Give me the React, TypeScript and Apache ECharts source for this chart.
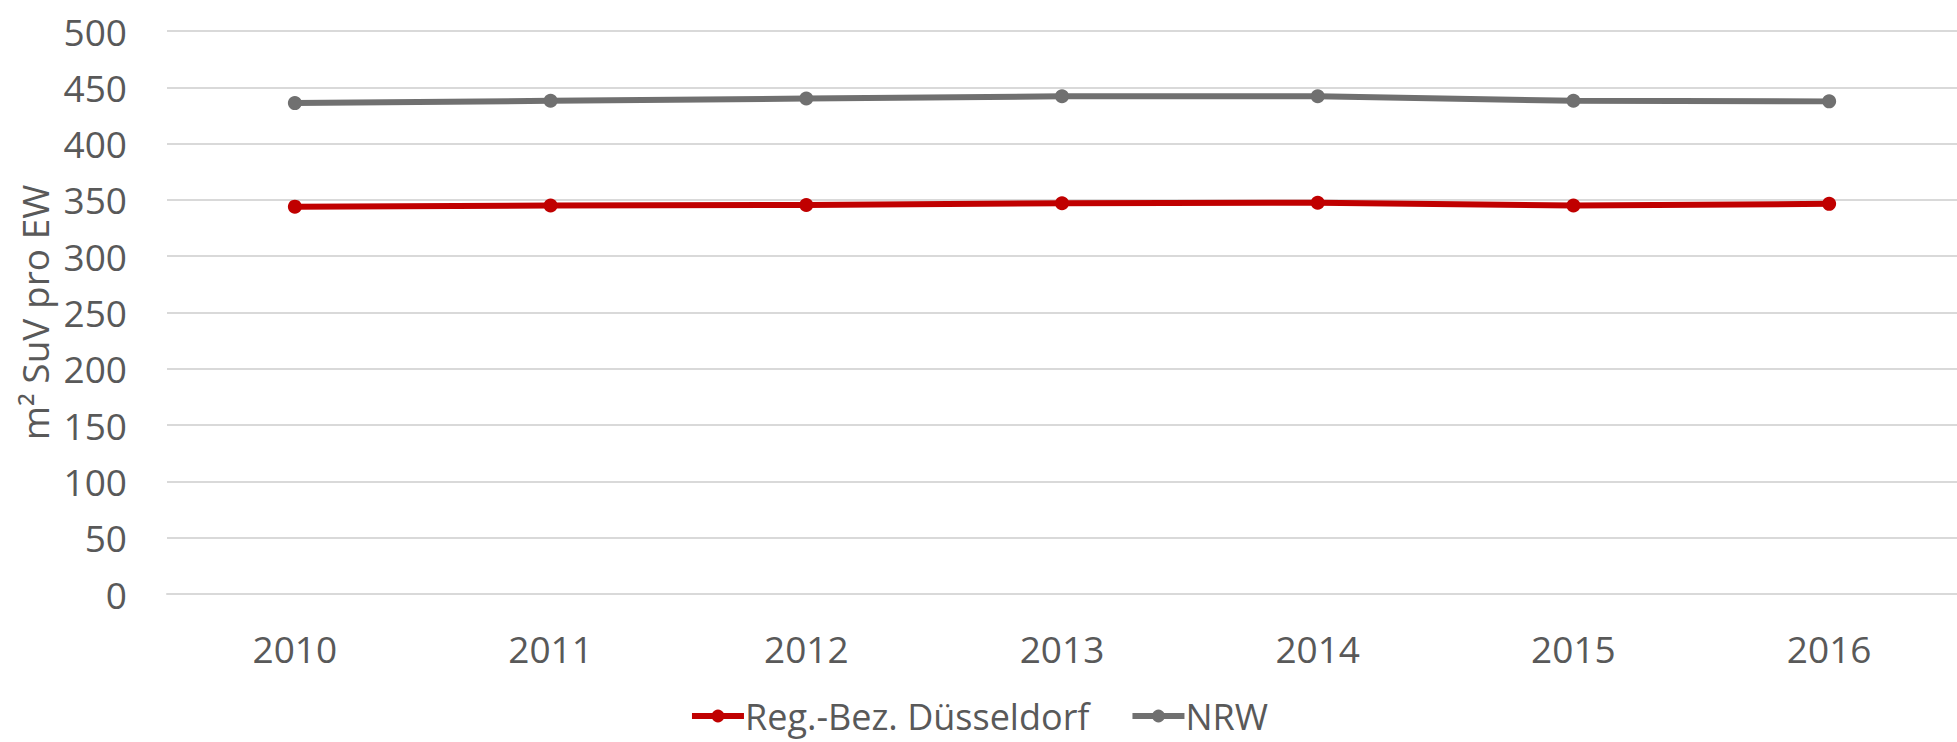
import React, { useEffect, useRef } from "react";
import * as echarts from "echarts";

const years = ["2010", "2011", "2012", "2013", "2014", "2015", "2016"];
const duesseldorf = [344, 345, 345.5, 347, 347.5, 345, 346.5];
const nrw = [436, 438, 440, 442, 442, 438, 437.5];
const yTicks = { min: 0, max: 500, interval: 50 };

export default function App() {
  const ref = useRef<HTMLDivElement>(null);
  useEffect(() => {
    document.body.style.margin = "0";
    const chart = echarts.init(ref.current!, null, { renderer: "svg" });
    const font = "'Open Sans', sans-serif";
    const txt = "#595959";
    chart.setOption({
      animation: false,
      backgroundColor: "#ffffff",
      grid: { left: 167, top: 31, right: -9, bottom: 148, containLabel: false },
      legend: {
        bottom: 8,
        left: "center",
        itemWidth: 52,
        itemHeight: 16,
        itemGap: 40,
        padding: 0,
        lineStyle: { width: 6 },
        textStyle: { fontFamily: font, fontSize: 36, lineHeight: 36, color: txt, padding: [0, 0, 0, -4] },
        data: ["Reg.-Bez. Düsseldorf", "NRW"],
      },
      xAxis: {
        type: "category",
        data: years,
        boundaryGap: true,
        axisLine: { show: true, lineStyle: { color: "#D9D9D9", width: 2 } },
        axisTick: { show: false },
        axisLabel: { fontFamily: font, fontSize: 37, color: txt, margin: 36 },
      },
      yAxis: {
        type: "value",
        min: yTicks.min,
        max: yTicks.max,
        interval: yTicks.interval,
        name: "m² SuV pro EW",
        nameLocation: "middle",
        nameGap: 113,
        nameRotate: 90,
        nameTextStyle: { fontFamily: font, fontSize: 37, color: txt },
        axisLine: { show: false },
        axisTick: { show: false },
        splitLine: { lineStyle: { color: "#D9D9D9", width: 2 } },
        axisLabel: { fontFamily: font, fontSize: 37, color: txt, margin: 40 },
      },
      series: [
        {
          name: "Reg.-Bez. Düsseldorf",
          type: "line",
          data: duesseldorf,
          symbol: "circle",
          symbolSize: 14,
          itemStyle: { color: "#C00000" },
          lineStyle: { color: "#C00000", width: 6 },
        },
        {
          name: "NRW",
          type: "line",
          data: nrw,
          symbol: "circle",
          symbolSize: 14,
          itemStyle: { color: "#707070" },
          lineStyle: { color: "#707070", width: 6 },
        },
      ],
    });
    return () => chart.dispose();
  }, []);
  return <div ref={ref} style={{ width: 1957, height: 742 }} />;
}
